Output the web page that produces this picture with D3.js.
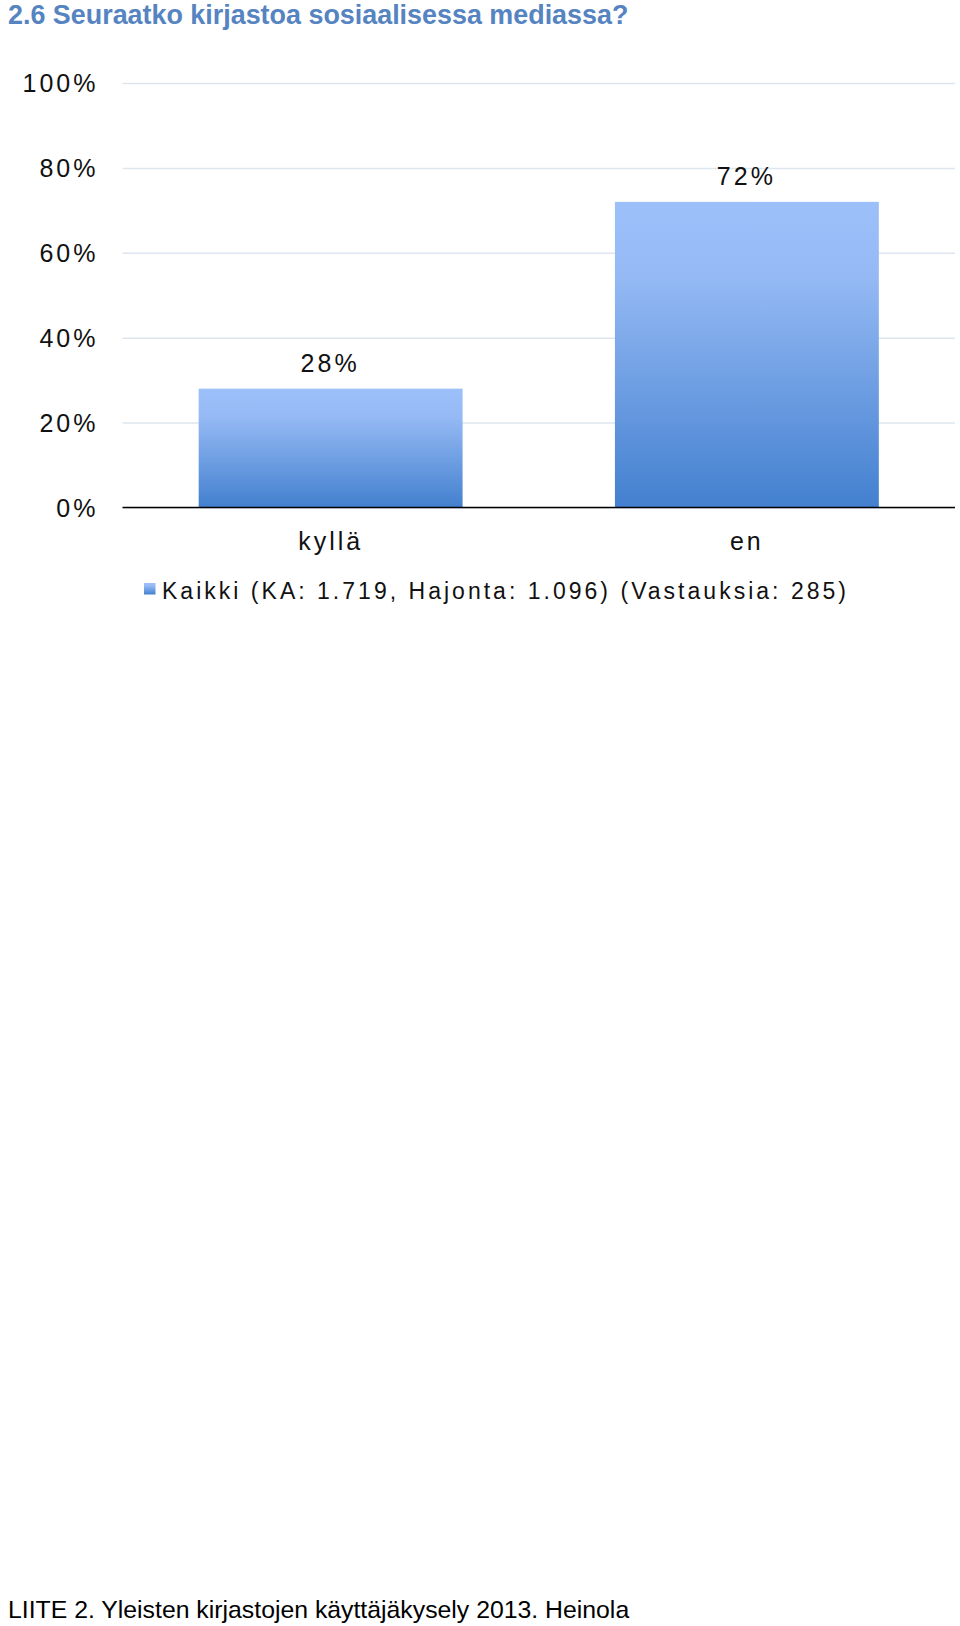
<!DOCTYPE html>
<html>
<head>
<meta charset="utf-8">
<script src="https://cdn.jsdelivr.net/npm/d3@7"></script>
<style>
  body { margin: 0; background: #fff; }
  svg text { font-family: "Liberation Sans", Arial, sans-serif; }
</style>
</head>
<body>
<svg width="960" height="1626"></svg>
<script>
const categories = ['kyllä', 'en'];
const values = [28, 72];
const yTicks = [0, 20, 40, 60, 80, 100];
const titleText = '2.6 Seuraatko kirjastoa sosiaalisessa mediassa?';
const legendText = 'Kaikki (KA: 1.719, Hajonta: 1.096) (Vastauksia: 285)';
const footerText = 'LIITE 2. Yleisten kirjastojen käyttäjäkysely 2013. Heinola';

const svg = d3.select('svg');
const plot = { left: 122.5, right: 955, top: 83, bottom: 507.5 };

const x = d3.scaleBand()
  .domain(categories)
  .range([plot.left, plot.right])
  .paddingInner(0.366)
  .paddingOuter(0.183);

const y = d3.scaleLinear()
  .domain([0, 100])
  .range([plot.bottom, plot.top]);

// gradient for bars
const grad = svg.append('defs').append('linearGradient')
  .attr('id', 'barGrad')
  .attr('x1', 0).attr('y1', 0).attr('x2', 0).attr('y2', 1);
grad.append('stop').attr('offset', '0%').attr('stop-color', '#9bc0fa');
grad.append('stop').attr('offset', '25%').attr('stop-color', '#94b9f4');
grad.append('stop').attr('offset', '100%').attr('stop-color', '#4380cf');

// title
svg.append('text')
  .attr('x', 8).attr('y', 24)
  .attr('font-size', 26.9).attr('font-weight', 'bold')
  .attr('fill', '#5584c1')
  .text(titleText);

// gridlines + y labels
const yAxis = d3.axisLeft(y)
  .tickValues(yTicks)
  .tickSize(-(plot.right - plot.left))
  .tickPadding(25)
  .tickFormat(d => d + '%');

const gy = svg.append('g')
  .attr('transform', `translate(${plot.left},0)`)
  .call(yAxis);
gy.select('.domain').remove();
gy.selectAll('.tick line').attr('stroke', '#dde6ee').attr('stroke-width', 1.5);
gy.selectAll('.tick text')
  .attr('font-size', 25)
  .attr('fill', '#111')
  .attr('letter-spacing', 3)
  .attr('dy', '0.35em')
  .attr('dx', 1);

// bars
svg.append('g').selectAll('rect')
  .data(values)
  .join('rect')
  .attr('x', (d, i) => x(categories[i]))
  .attr('y', d => y(d))
  .attr('width', x.bandwidth())
  .attr('height', d => y(0) - y(d))
  .attr('fill', 'url(#barGrad)');

// value labels
svg.append('g').selectAll('text')
  .data(values)
  .join('text')
  .attr('x', (d, i) => x(categories[i]) + x.bandwidth() / 2 - 0.5)
  .attr('y', d => y(d) - 16.5)
  .attr('text-anchor', 'middle')
  .attr('font-size', 25)
  .attr('letter-spacing', 3)
  .attr('fill', '#111')
  .text(d => d + '%');

// x axis baseline + category labels
const xAxis = d3.axisBottom(x).tickSize(0).tickPadding(25);
const gx = svg.append('g')
  .attr('transform', `translate(0,${plot.bottom})`)
  .call(xAxis);
gx.select('.domain')
  .attr('d', `M${plot.left},0H${plot.right}`)
  .attr('stroke', '#000').attr('stroke-width', 1.5);
gx.selectAll('.tick text')
  .attr('font-size', 25)
  .attr('letter-spacing', 3)
  .attr('dx', 0)
  .attr('fill', '#111');

// legend
const lg = svg.append('g').attr('transform', 'translate(144,583)');
lg.append('rect')
  .attr('width', 11.5).attr('height', 11.5)
  .attr('fill', 'url(#barGrad)');
lg.append('text')
  .attr('x', 18).attr('y', 15.5)
  .attr('font-size', 23)
  .attr('fill', '#111')
  .attr('textLength', 684)
  .attr('lengthAdjust', 'spacing')
  .text(legendText);

// footer
svg.append('text')
  .attr('x', 8).attr('y', 1618)
  .attr('font-size', 24.8)
  .attr('fill', '#000')
  .text(footerText);
</script>
</body>
</html>
